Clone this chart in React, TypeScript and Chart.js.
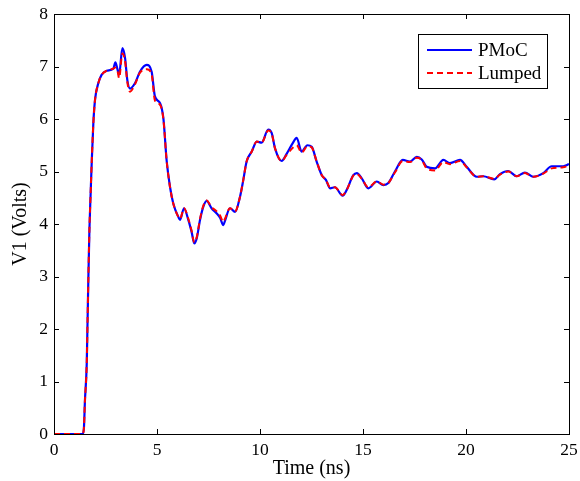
import React, { useEffect, useRef } from "react";
import { Chart, registerables } from "chart.js";

Chart.register(...registerables);

const timeNs = [0, 1.38, 1.45, 1.5, 1.59, 1.63, 1.67, 1.72, 1.78, 1.83, 1.91, 1.99, 2.15, 2.31, 2.56, 2.88, 2.98, 3.08, 3.16, 3.32, 3.45, 3.56, 3.69, 3.93, 4.17, 4.5, 4.74, 4.9, 5.15, 5.31, 5.47, 5.63, 5.79, 6.03, 6.12, 6.31, 6.52, 6.68, 6.81, 6.93, 7.09, 7.25, 7.41, 7.65, 7.9, 8.06, 8.22, 8.3, 8.54, 8.79, 9.03, 9.19, 9.35, 9.6, 9.84, 10.08, 10.4, 10.57, 10.73, 11.05, 11.3, 11.59, 11.78, 12.02, 12.3, 12.51, 12.75, 13.0, 13.2, 13.4, 13.64, 14.01, 14.21, 14.53, 14.7, 14.94, 15.26, 15.67, 15.99, 16.23, 16.55, 16.93, 17.28, 17.61, 17.85, 18.09, 18.5, 18.9, 19.22, 19.71, 20.03, 20.52, 20.84, 21.37, 21.65, 22.05, 22.46, 22.86, 23.27, 23.75, 24.16, 24.72, 25.0];

const pmocV = [0, 0, 0.1, 0.62, 1.35, 2.17, 3.0, 3.9, 4.6, 5.16, 5.92, 6.36, 6.68, 6.84, 6.92, 6.96, 7.08, 6.95, 6.84, 7.35, 7.16, 6.74, 6.58, 6.68, 6.9, 7.03, 6.9, 6.43, 6.3, 6.01, 5.2, 4.71, 4.39, 4.14, 4.08, 4.3, 4.08, 3.85, 3.63, 3.73, 4.08, 4.33, 4.44, 4.3, 4.2, 4.12, 3.98, 4.06, 4.3, 4.23, 4.52, 4.84, 5.19, 5.38, 5.57, 5.55, 5.8, 5.73, 5.44, 5.2, 5.34, 5.54, 5.64, 5.38, 5.5, 5.47, 5.19, 4.93, 4.84, 4.68, 4.7, 4.54, 4.65, 4.93, 4.97, 4.87, 4.68, 4.81, 4.74, 4.78, 5.0, 5.22, 5.19, 5.28, 5.23, 5.09, 5.06, 5.22, 5.16, 5.22, 5.09, 4.9, 4.91, 4.85, 4.95, 5.01, 4.91, 4.98, 4.9, 4.97, 5.1, 5.1, 5.14];

const lumpedV = [0, 0, 0.1, 0.62, 1.35, 2.17, 3.0, 3.9, 4.6, 5.16, 5.92, 6.36, 6.68, 6.84, 6.92, 6.96, 6.98, 6.92, 6.78, 7.25, 7.1, 6.7, 6.52, 6.66, 6.88, 6.95, 6.85, 6.35, 6.27, 6.0, 5.2, 4.71, 4.39, 4.14, 4.1, 4.3, 4.1, 3.87, 3.65, 3.75, 4.1, 4.35, 4.45, 4.32, 4.24, 4.16, 4.04, 4.1, 4.3, 4.24, 4.52, 4.84, 5.19, 5.38, 5.57, 5.55, 5.78, 5.72, 5.44, 5.2, 5.32, 5.45, 5.5, 5.36, 5.48, 5.46, 5.19, 4.93, 4.84, 4.7, 4.7, 4.55, 4.65, 4.92, 4.95, 4.86, 4.7, 4.81, 4.75, 4.78, 4.98, 5.2, 5.18, 5.26, 5.22, 5.06, 5.02, 5.18, 5.14, 5.2, 5.08, 4.9, 4.91, 4.86, 4.94, 5.0, 4.91, 4.97, 4.9, 4.96, 5.06, 5.08, 5.12];

const seriesNames = ["PMoC", "Lumped"];
const xTitle = "Time (ns)";
const yTitle = "V1 (Volts)";
const xTickValues = [0, 5, 10, 15, 20, 25];
const yTickValues = [0, 1, 2, 3, 4, 5, 6, 7, 8];

const FONT = "'Liberation Serif', 'Times New Roman', serif";

const framePlugin = {
  id: "frameAndLegend",
  afterDatasetsDraw(chart: any) {
    const { ctx, chartArea: a, scales } = chart;
    const xs = scales.x;
    const ys = scales.y;
    ctx.save();
    ctx.strokeStyle = "#000";
    ctx.lineWidth = 1;
    ctx.strokeRect(Math.round(a.left) + 0.5, Math.round(a.top) + 0.5, Math.round(a.right - a.left), Math.round(a.bottom - a.top));
    const tl = 5;
    ctx.beginPath();
    xTickValues.forEach((v) => {
      const px = Math.round(xs.getPixelForValue(v)) + 0.5;
      ctx.moveTo(px, a.bottom);
      ctx.lineTo(px, a.bottom - tl);
      ctx.moveTo(px, a.top);
      ctx.lineTo(px, a.top + tl);
    });
    yTickValues.forEach((v) => {
      const py = Math.round(ys.getPixelForValue(v)) + 0.5;
      ctx.moveTo(a.left, py);
      ctx.lineTo(a.left + tl, py);
      ctx.moveTo(a.right, py);
      ctx.lineTo(a.right - tl, py);
    });
    ctx.stroke();

    // legend box inside plot
    const bx = 418.5, by = 34.5, bw = 129, bh = 54;
    ctx.fillStyle = "#fff";
    ctx.fillRect(bx, by, bw, bh);
    ctx.strokeRect(bx, by, bw, bh);
    ctx.font = "19px " + FONT;
    ctx.textBaseline = "middle";
    ctx.textAlign = "left";
    const ordered = [...chart.data.datasets].sort((p: any, q: any) => seriesNames.indexOf(p.label) - seriesNames.indexOf(q.label));
    ordered.forEach((ds: any, i: number) => {
      const ly = 50 + i * 23;
      ctx.beginPath();
      ctx.strokeStyle = ds.borderColor;
      ctx.lineWidth = 2;
      ctx.setLineDash(ds.borderDash || []);
      ctx.moveTo(427, ly);
      ctx.lineTo(472, ly);
      ctx.stroke();
      ctx.setLineDash([]);
      ctx.fillStyle = "#000";
      ctx.fillText(ds.label, 478, ly + 1);
    });
    ctx.restore();
  },
};

export default function App() {
  const ref = useRef<HTMLCanvasElement>(null);
  useEffect(() => {
    if (!ref.current) return;
    const chart = new Chart(ref.current, {
      type: "line",
      data: {
        datasets: [
          {
            label: seriesNames[0],
            data: timeNs.map((t, i) => ({ x: t, y: pmocV[i] })),
            borderColor: "#0000ff",
            borderWidth: 2.2,
            pointRadius: 0,
            cubicInterpolationMode: "monotone",
            fill: false,
            order: 1,
          },
          {
            label: seriesNames[1],
            data: timeNs.map((t, i) => ({ x: t, y: lumpedV[i] })),
            borderColor: "#ff0000",
            borderWidth: 2,
            borderDash: [6, 4],
            pointRadius: 0,
            cubicInterpolationMode: "monotone",
            fill: false,
            order: 0,
          },
        ],
      },
      options: {
        animation: false,
        responsive: false,
        maintainAspectRatio: false,
        layout: { padding: { top: 14, right: 11, left: 0, bottom: 0 } },
        plugins: { legend: { display: false }, tooltip: { enabled: false } },
        scales: {
          x: {
            type: "linear",
            min: 0,
            max: 25,
            afterFit: (s: any) => { s.height = 47; s.paddingLeft = 0; s.paddingRight = 0; },
            afterBuildTicks: (s: any) => { s.ticks = xTickValues.map((v) => ({ value: v })); },
            grid: { display: false, drawTicks: false },
            border: { display: false },
            ticks: { color: "#000", font: { family: FONT, size: 17.5 }, padding: 6, maxRotation: 0 },
            title: { display: true, text: xTitle, color: "#000", font: { family: FONT, size: 20 }, padding: { top: 0, bottom: 0 } },
          },
          y: {
            type: "linear",
            min: 0,
            max: 8,
            afterFit: (s: any) => { s.width = 54; s.paddingTop = 0; s.paddingBottom = 0; },
            afterBuildTicks: (s: any) => { s.ticks = yTickValues.map((v) => ({ value: v })); },
            grid: { display: false, drawTicks: false },
            border: { display: false },
            ticks: { color: "#000", font: { family: FONT, size: 17.5 }, padding: 6 },
            title: { display: true, text: yTitle, color: "#000", font: { family: FONT, size: 20 }, padding: { top: 9, bottom: 0 } },
          },
        },
      },
      plugins: [framePlugin],
    } as any);
    return () => chart.destroy();
  }, []);
  return (
    <div style={{ position: "fixed", left: 0, top: 0, width: 580, height: 481, background: "#fff" }}>
      <canvas ref={ref} width={580} height={481} style={{ width: 580, height: 481 }} />
    </div>
  );
}
